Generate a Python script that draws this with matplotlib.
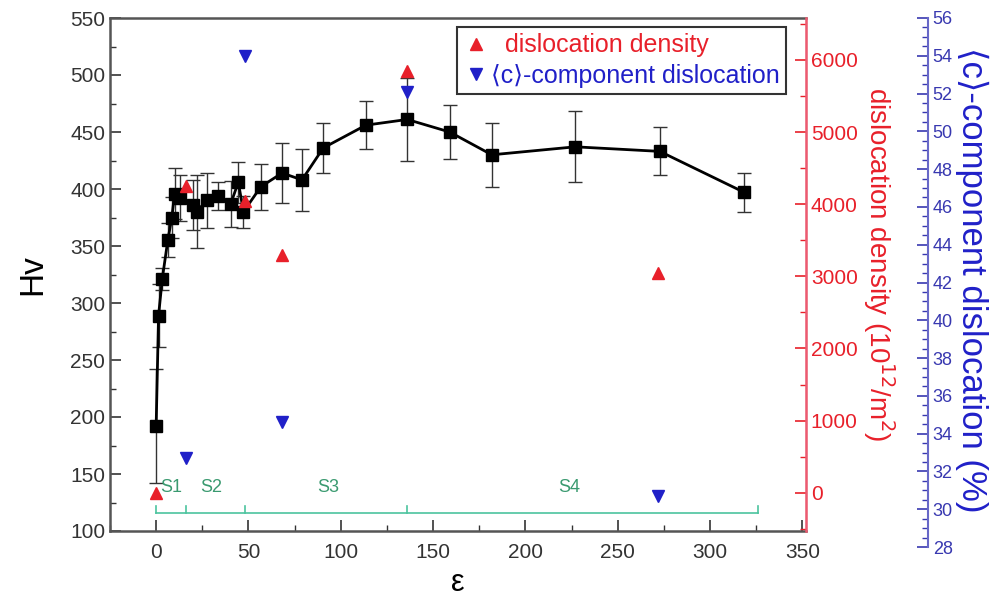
import matplotlib
matplotlib.use("Agg")
import matplotlib.pyplot as plt
from matplotlib.ticker import MultipleLocator

plt.rcParams['font.family'] = ['Liberation Sans', 'DejaVu Sans']

# Hv vs strain
strain = [0, 1.3, 3.3, 6.3, 8.5, 10, 12.7, 20, 22, 27.3, 33.6, 40.4, 44.5, 47.3,
          56.7, 68.2, 79, 90.5, 113.6, 136, 159, 181.8, 227, 272.8, 318.6]
hv = [192, 289, 321, 355, 375, 396, 392, 386, 380, 390, 394, 387, 406, 380,
      402, 414, 408, 436, 456, 461, 450, 430, 437, 433, 397]
hv_err = [50, 28, 10, 15, 18, 22, 20, 22, 32, 24, 12, 20, 18, 14,
          20, 26, 27, 22, 21, 36, 24, 28, 31, 21, 17]

# dislocation density (10^12/m^2)
dd_strain = [0, 16, 48, 68, 136, 272]
dd = [0, 4250, 4050, 3300, 5850, 3050]

# <c>-component dislocation (%)
cc_strain = [16, 48, 68, 136, 272]
cc = [32.7, 54.0, 34.6, 52.1, 30.7]

# deformation stages
stage_bounds = [0, 16, 48, 136, 326]
stage_names = ['S1', 'S2', 'S3', 'S4']
stage_text_x = [8, 30, 93, 224]

fig = plt.figure(figsize=(10.03, 6.15), dpi=100)
W, H = 1003, 615
ax = fig.add_axes([110 / W, 1 - 531 / H, 696 / W, 513 / H])
ax2 = ax.twinx()
ax3 = fig.add_axes([110 / W, 1 - 547 / H, 696 / W, 529 / H])
ax3.patch.set_visible(False)

axcol = '#555555'
red = '#e8202a'
blue = '#2020c8'

ax.errorbar(strain, hv, yerr=hv_err, color='black', marker='s', ms=8, lw=2,
            ecolor='#333333', elinewidth=1, capsize=5, capthick=1, zorder=3)

# stage bar
green_line = '#4cc49e'
green_text = '#3a9a70'
ax.plot([stage_bounds[0], stage_bounds[-1]], [115.5, 115.5], color=green_line, lw=1.2)
for b in stage_bounds:
    ax.plot([b, b], [115.5, 122], color=green_line, lw=1.2)
for name, tx in zip(stage_names, stage_text_x):
    ax.text(tx, 138, name, color=green_text, fontsize=13, ha='center', va='center')

ax.set_xlim(-25, 352)
ax.set_ylim(100, 550)
ax.xaxis.set_major_locator(MultipleLocator(50))
ax.xaxis.set_minor_locator(MultipleLocator(25))
ax.yaxis.set_major_locator(MultipleLocator(50))
ax.yaxis.set_minor_locator(MultipleLocator(25))
ax.tick_params(which='both', direction='in', top=False, colors='#333333', labelsize=15)
ax.tick_params(which='major', length=8, width=1.2)
ax.tick_params(which='minor', length=4, width=1)
ax.tick_params(axis='x', pad=9)
for s in ['left', 'bottom', 'top']:
    ax.spines[s].set_color(axcol)
    ax.spines[s].set_linewidth(1.8)
ax.set_xlabel('ε', fontsize=22, labelpad=4)
ax.set_ylabel('Hv', fontsize=24, labelpad=16)

# red axis
ax2.plot(dd_strain, dd, linestyle='none', marker='^', ms=9, color=red, zorder=4,
         label='  dislocation density')
ax2.set_ylim(-530, 6580)
ax2.yaxis.set_major_locator(MultipleLocator(1000))
ax2.yaxis.set_minor_locator(MultipleLocator(500))
ax2.tick_params(which='both', direction='in', colors=red, labelsize=15)
ax2.tick_params(which='major', length=8, width=1.2)
ax2.tick_params(which='minor', length=4, width=1)
ax2.spines['right'].set_color('#ee5a70')
ax2.spines['right'].set_linewidth(1.8)
for s in ['left', 'bottom', 'top']:
    ax2.spines[s].set_visible(False)
ax2.set_ylabel('dislocation density (10$^{12}$/m$^{2}$)', color=red, fontsize=20,
               rotation=-90)
ax2.yaxis.set_label_coords(1.13, 0.52)

# blue axis
ax3.plot(cc_strain, cc, linestyle='none', marker='v', ms=9, color=blue, zorder=4,
         label='\u27e8c\u27e9-component dislocation')
ax3.set_xlim(-25, 352)
ax3.set_ylim(28, 56)
ax3.xaxis.set_visible(False)
ax3.yaxis.tick_right()
ax3.yaxis.set_label_position('right')
ax3.spines['right'].set_position(('axes', 1.175))
for s in ['left', 'bottom', 'top']:
    ax3.spines[s].set_visible(False)
ax3.spines['right'].set_color('#6868c8')
ax3.spines['right'].set_linewidth(1.5)
ax3.yaxis.set_major_locator(MultipleLocator(2))
ax3.yaxis.set_minor_locator(MultipleLocator(0.5))
ax3.tick_params(which='both', direction='in', colors='#3838b0', labelsize=13)
ax3.tick_params(which='major', length=8, width=1.2)
ax3.tick_params(which='minor', length=4, width=1)
ax3.set_ylabel('\u27e8c\u27e9-component dislocation (%)', color=blue, fontsize=25,
               rotation=-90)
ax3.yaxis.set_label_coords(1.262, 0.505)

h2, l2 = ax2.get_legend_handles_labels()
h3, l3 = ax3.get_legend_handles_labels()
leg = fig.legend(h2 + h3, l2 + l3, loc='upper left', bbox_to_anchor=(457 / W, 1 - 27 / H),
                 fontsize=18, frameon=True, fancybox=False, edgecolor='black',
                 handletextpad=0.1, handlelength=1.0, borderpad=0.25, labelspacing=0.25,
                 borderaxespad=0)
leg.get_frame().set_linewidth(1.5)
leg.set_zorder(10)
for t, c in zip(leg.get_texts(), [red, blue]):
    t.set_color(c)

fig.savefig('out.png', dpi=100)
